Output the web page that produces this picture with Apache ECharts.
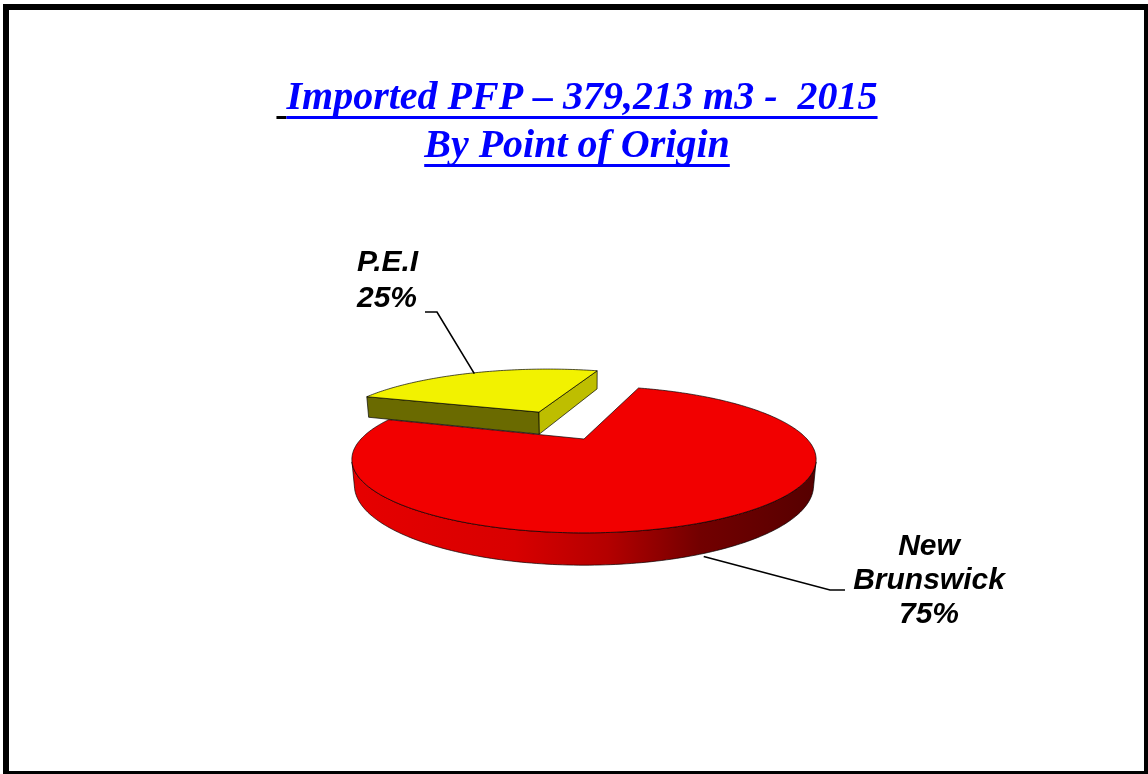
<!DOCTYPE html>
<html>
<head>
<meta charset="utf-8">
<title>Imported PFP - By Point of Origin</title>
<script src="https://cdn.jsdelivr.net/npm/echarts@6/dist/echarts.min.js"></script>
<style>
    html, body { margin: 0; padding: 0; background: #ffffff; }
    #chart { width: 1148px; height: 774px; }
</style>
</head>
<body>
<div id="chart"></div>
<script>
    // data
    var categories = ['New Brunswick', 'P.E.I'];
    var shares = [75, 25];
    var labelNames = ['New\nBrunswick', 'P.E.I'];
    var titleLines = [' Imported PFP \u2013 379,213 m3 -  2015', 'By Point of Origin'];

    // look of the slices
    var topColors = ['#f20000', '#f2f200'];
    var wallStops = [
        [{offset: 0, color: '#e60000'}, {offset: 0.35, color: '#d80000'}, {offset: 0.55, color: '#b40000'},
         {offset: 0.75, color: '#720000'}, {offset: 1, color: '#560000'}],
        [{offset: 0, color: '#c8c800'}, {offset: 1, color: '#6a6a00'}]
    ];
    var faceColors = [['#b00000', '#900000'], ['#6a6a00', '#bebe00']];
    var explode = [0, 0.5];

    // label layout
    var labelPos = [[929, 581], [357, 281]];
    var labelAlign = ['center', 'left'];
    var labelLineHeight = [34, 36];
    var leaderElbow = [[[830, 590], [845, 590]], [[437, 312], [425, 312]]];

    // fake 3d view
    var CX = 584, CY = 439, K = 223;
    var TILT = 17.7 * Math.PI / 180, DIST = 3.43, THICK = 0.116;
    var START_ANGLE = 72;

    function rad(d) { return d * Math.PI / 180; }

    function project(X, H, Z) {
        var up = H * Math.cos(TILT) - Z * Math.sin(TILT);
        var depth = H * Math.sin(TILT) + Z * Math.cos(TILT);
        var s = DIST / (DIST - depth);
        return [CX + K * X * s, CY - K * up * s];
    }

    function slicePoint(ang, r, h, off) {
        var t = rad(ang);
        return project(off[0] + r * Math.cos(t), h, off[1] - r * Math.sin(t));
    }

    // is a face with outward normal at angle nAng (through point X,Z) facing the camera
    function facing(nAng, X, Z) {
        var t = rad(nAng);
        var nx = Math.cos(t), nz = -Math.sin(t);
        return (-X) * nx + (DIST * Math.cos(TILT) - Z) * nz > 0;
    }

    var total = shares.reduce(function (a, b) { return a + b; }, 0);

    function renderSlice(params, api) {
        var i = params.dataIndex;
        var before = 0;
        for (var j = 0; j < i; j++) before += shares[j];
        var a0 = START_ANGLE - before / total * 360;
        var a1 = a0 - api.value(0) / total * 360;
        var mid = (a0 + a1) / 2;
        var e = explode[i];
        var off = [e * Math.cos(rad(mid)), -e * Math.sin(rad(mid))];
        var midZ = off[1] - Math.sin(rad(mid));
        var base = 10 + Math.round(midZ * 4);
        var edge = 'rgba(0,0,0,0.85)';
        var children = [];

        // radial side faces
        [[a0, a0 + 90, faceColors[i][0]], [a1, a1 - 90, faceColors[i][1]]].forEach(function (f) {
            if (!facing(f[1], off[0], off[1])) return;
            children.push({
                type: 'polygon', z2: base + 1,
                shape: {points: [
                    slicePoint(0, 0, 0, off), slicePoint(f[0], 1, 0, off),
                    slicePoint(f[0], 1, -THICK, off), slicePoint(0, 0, -THICK, off)
                ]},
                style: {fill: f[2], stroke: edge, lineWidth: 0.8}
            });
        });

        // outer wall, front part only
        var angs = [];
        for (var a = a0; a > a1; a -= 1) angs.push(a);
        angs.push(a1);
        var run = angs.filter(function (a) {
            var t = rad(a);
            return facing(a, off[0] + Math.cos(t), off[1] - Math.sin(t));
        });
        if (run.length > 1) {
            var topPts = run.map(function (a) { return slicePoint(a, 1, 0, off); });
            var botPts = run.map(function (a) { return slicePoint(a, 1, -THICK, off); }).reverse();
            children.push({
                type: 'polygon', z2: base + 1,
                shape: {points: topPts.concat(botPts)},
                style: {
                    fill: new echarts.graphic.LinearGradient(CX - K * 1.04, 0, CX + K * 1.04, 0, wallStops[i], true),
                    stroke: edge, lineWidth: 0.8
                }
            });
        }

        // top face
        var face = [slicePoint(0, 0, 0, off)];
        angs.forEach(function (a) { face.push(slicePoint(a, 1, 0, off)); });
        children.push({
            type: 'polygon', z2: base + 2,
            shape: {points: face},
            style: {fill: topColors[i], stroke: edge, lineWidth: 0.8}
        });

        // leader line + label
        var anchor = e > 0 ? slicePoint(mid, 0.98, 0, off) : slicePoint(mid - 3, 1, -THICK * 1.1, off);
        children.push({
            type: 'polyline', z2: 50,
            shape: {points: [anchor].concat(leaderElbow[i])},
            style: {fill: 'none', stroke: '#000000', lineWidth: 1.6}
        });
        children.push({
            type: 'text', z2: 50,
            x: labelPos[i][0], y: labelPos[i][1],
            style: {
                text: labelNames[i] + '\n' + Math.round(api.value(0) / total * 100) + '%',
                font: 'italic bold 30px "Liberation Sans"',
                fill: '#000000',
                align: labelAlign[i],
                verticalAlign: 'middle',
                lineHeight: labelLineHeight[i]
            }
        });

        return {type: 'group', children: children};
    }

    // title with underline
    var titleFont = 'italic bold 40px "Liberation Serif"';
    function textWidth(str) {
        return new echarts.graphic.Text({style: {text: str, font: titleFont}}).getBoundingRect().width;
    }
    var titleY = [99, 147];
    var titleCenter = 577;
    var titleGraphics = [];
    titleLines.forEach(function (str, k) {
        var w = textWidth(str);
        var x0 = titleCenter - w / 2;
        var lead = str.length - str.replace(/^ +/, '').length;
        var leadW = lead ? textWidth(str.substr(0, lead)) : 0;
        titleGraphics.push({
            type: 'text', x: titleCenter, y: titleY[k],
            style: {text: str, font: titleFont, fill: '#0000ff', align: 'center', verticalAlign: 'middle'}
        });
        if (leadW) {
            titleGraphics.push({
                type: 'rect', shape: {x: x0, y: titleY[k] + 17, width: leadW, height: 3},
                style: {fill: '#000000'}
            });
        }
        titleGraphics.push({
            type: 'rect', shape: {x: x0 + leadW, y: titleY[k] + 17, width: w - leadW, height: 3},
            style: {fill: '#0000ff'}
        });
    });

    var chart = echarts.init(document.getElementById('chart'));
    chart.setOption({
        animation: false,
        backgroundColor: '#ffffff',
        graphic: [{
            type: 'rect', shape: {x: 6, y: 7, width: 1141, height: 767},
            style: {fill: 'none', stroke: '#000000', lineWidth: 6}
        }].concat(titleGraphics),
        series: [{
            type: 'custom',
            coordinateSystem: 'none',
            silent: true,
            renderItem: renderSlice,
            data: shares.map(function (v, i) { return {name: categories[i], value: v}; })
        }]
    });
</script>
</body>
</html>
